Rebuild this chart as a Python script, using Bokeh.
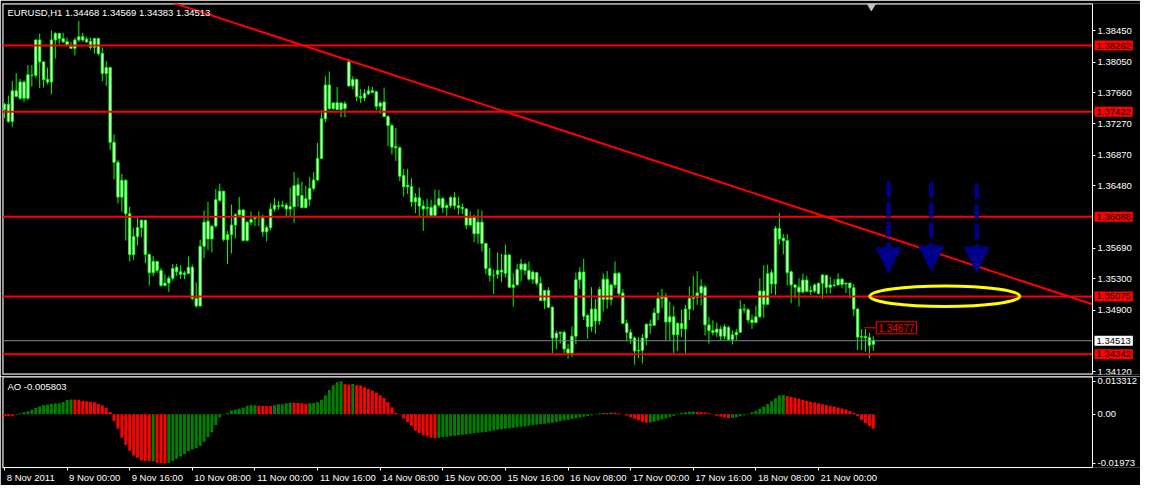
from bokeh.plotting import figure
from bokeh.layouts import column
from bokeh.models import (ColumnDataSource, Label, FixedTicker, Arrow, NormalHead,
                          Range1d, LinearAxis, PrintfTickFormatter)
from bokeh.embed import file_html
from bokeh.resources import INLINE

FONT = "Liberation Sans"
FS = "9.5px"

# ---------------- data (EURUSD H1, 8 Nov 2011 08:00 .. 21 Nov 2011) ----------------
opens = [
    1.37450, 1.37515, 1.37299, 1.37687, 1.37593, 1.37798, 1.37593, 1.37884, 1.37884, 1.38333,
    1.38055, 1.37834, 1.37798, 1.38333, 1.38415, 1.38350, 1.38313, 1.38252, 1.38227, 1.38333,
    1.38374, 1.38342, 1.38313, 1.38239, 1.38350, 1.38162, 1.37908, 1.37982, 1.37033, 1.36779,
    1.36337, 1.36550, 1.36125, 1.35609, 1.35835, 1.35949, 1.36043, 1.35609, 1.35377, 1.35520,
    1.35405, 1.35213, 1.35245, 1.35307, 1.35446, 1.35389, 1.35356, 1.35368, 1.35446, 1.35049,
    1.34955, 1.35712, 1.36031, 1.35806, 1.35969, 1.36297, 1.36411, 1.35798, 1.35859, 1.35982,
    1.36113, 1.36174, 1.35786, 1.36019, 1.36064, 1.36084, 1.36072, 1.35896, 1.35949, 1.36186,
    1.36227, 1.36223, 1.36235, 1.36186, 1.36215, 1.36493, 1.36358, 1.36203, 1.36309, 1.36448,
    1.36554, 1.36828, 1.37331, 1.37761, 1.37462, 1.37536, 1.37450, 1.37462, 1.38055, 1.37749,
    1.37830, 1.37614, 1.37597, 1.37646, 1.37687, 1.37675, 1.37491, 1.37544, 1.37360, 1.37246,
    1.36980, 1.36963, 1.36612, 1.36468, 1.36473, 1.36276, 1.36329, 1.36223, 1.36195, 1.36207,
    1.36104, 1.36235, 1.36318, 1.36203, 1.36228, 1.36330, 1.36228, 1.36207, 1.36187, 1.35982,
    1.36084, 1.35872, 1.36019, 1.35749, 1.35430, 1.35344, 1.35356, 1.35410, 1.35369, 1.35602,
    1.35193, 1.35222, 1.35418, 1.35487, 1.35406, 1.35295, 1.35377, 1.35242, 1.35025, 1.35152,
    1.34939, 1.34547, 1.34608, 1.34620, 1.34408, 1.34354, 1.34571, 1.35287, 1.35385, 1.34833,
    1.34694, 1.34915, 1.34763, 1.35037, 1.35295, 1.35037, 1.35222, 1.35369, 1.35119, 1.34735,
    1.34620, 1.34547, 1.34383, 1.34391, 1.34547, 1.34722, 1.34710, 1.34866, 1.35050, 1.35078,
    1.34751, 1.34817, 1.34592, 1.34731, 1.34661, 1.34915, 1.35050, 1.35062, 1.35119, 1.35193,
    1.34714, 1.34641, 1.34620, 1.34661, 1.34571, 1.34682, 1.34530, 1.34588, 1.34620, 1.34915,
    1.34907, 1.34776, 1.34743, 1.34817, 1.35144, 1.34976, 1.35377, 1.35234, 1.35937, 1.35815,
    1.35786, 1.35389, 1.35222, 1.35193, 1.35132, 1.35283, 1.35140, 1.35144, 1.35242, 1.35242,
    1.35344, 1.35193, 1.35222, 1.35222, 1.35295, 1.35234, 1.35246, 1.35185, 1.34915, 1.34559,
    1.34567, 1.34551, 1.34468,
]
highs = [
    1.37532, 1.37626, 1.37810, 1.37912, 1.37839, 1.37818, 1.38014, 1.38014, 1.38342, 1.38415,
    1.38055, 1.37982, 1.38452, 1.38432, 1.38423, 1.38423, 1.38362, 1.38309, 1.38362, 1.38575,
    1.38423, 1.38374, 1.38362, 1.38362, 1.38362, 1.38239, 1.38063, 1.37994, 1.37135, 1.36808,
    1.36632, 1.36562, 1.36215, 1.35949, 1.36072, 1.36051, 1.36051, 1.35622, 1.35589, 1.35528,
    1.35438, 1.35356, 1.35335, 1.35487, 1.35487, 1.35471, 1.35397, 1.35581, 1.35479, 1.35254,
    1.35798, 1.36166, 1.36276, 1.35969, 1.36440, 1.36509, 1.36419, 1.35908, 1.36244, 1.36133,
    1.36338, 1.36186, 1.36031, 1.36154, 1.36100, 1.36154, 1.36113, 1.35978, 1.36256, 1.36325,
    1.36289, 1.36289, 1.36264, 1.36460, 1.36657, 1.36583, 1.36534, 1.36481, 1.36591, 1.36657,
    1.37025, 1.37442, 1.37871, 1.37933, 1.37544, 1.37736, 1.37544, 1.37556, 1.38096, 1.37871,
    1.37843, 1.37708, 1.37708, 1.37749, 1.37736, 1.37687, 1.37565, 1.37728, 1.37381, 1.37270,
    1.37217, 1.36980, 1.36698, 1.36698, 1.36575, 1.36387, 1.36460, 1.36297, 1.36317, 1.36305,
    1.36432, 1.36428, 1.36338, 1.36256, 1.36350, 1.36399, 1.36338, 1.36256, 1.36195, 1.36154,
    1.36113, 1.36183, 1.36166, 1.35749, 1.35692, 1.35418, 1.35635, 1.35614, 1.35733, 1.35610,
    1.35369, 1.35491, 1.35553, 1.35500, 1.35520, 1.35406, 1.35389, 1.35324, 1.35152, 1.35193,
    1.34947, 1.34641, 1.34628, 1.34641, 1.34477, 1.34694, 1.35377, 1.35446, 1.35553, 1.34853,
    1.35193, 1.35042, 1.35200, 1.35369, 1.35397, 1.35234, 1.35520, 1.35385, 1.35172, 1.34784,
    1.34661, 1.34567, 1.34559, 1.34600, 1.34731, 1.34784, 1.34927, 1.35132, 1.35172, 1.35119,
    1.35009, 1.34956, 1.34743, 1.34907, 1.34968, 1.35201, 1.35336, 1.35397, 1.35295, 1.35222,
    1.34817, 1.34772, 1.34743, 1.34702, 1.34723, 1.34702, 1.34641, 1.34661, 1.35029, 1.34980,
    1.34927, 1.34845, 1.34956, 1.35307, 1.35471, 1.35479, 1.35418, 1.35970, 1.36134, 1.35868,
    1.35868, 1.35406, 1.35226, 1.35307, 1.35365, 1.35336, 1.35213, 1.35242, 1.35254, 1.35357,
    1.35348, 1.35324, 1.35295, 1.35369, 1.35307, 1.35246, 1.35246, 1.35234, 1.34927, 1.34661,
    1.34661, 1.34612, 1.34569,
]
lows = [
    1.37340, 1.37279, 1.37229, 1.37605, 1.37573, 1.37544, 1.37565, 1.37740, 1.37851, 1.37720,
    1.37728, 1.37769, 1.37646, 1.38096, 1.38280, 1.38293, 1.38260, 1.38219, 1.38137, 1.38309,
    1.38309, 1.38293, 1.38211, 1.38158, 1.38137, 1.37810, 1.37749, 1.36931, 1.36562, 1.36256,
    1.36153, 1.35785, 1.35520, 1.35540, 1.35724, 1.35826, 1.35499, 1.35213, 1.35335, 1.35377,
    1.35200, 1.35200, 1.35131, 1.35274, 1.35335, 1.35295, 1.35295, 1.35356, 1.35029, 1.34931,
    1.34947, 1.35560, 1.35663, 1.35634, 1.35949, 1.36276, 1.35773, 1.35487, 1.35622, 1.35814,
    1.36092, 1.35773, 1.35773, 1.35978, 1.35969, 1.35969, 1.35835, 1.35773, 1.35916, 1.36154,
    1.36174, 1.36207, 1.36092, 1.36092, 1.36010, 1.36215, 1.36195, 1.36195, 1.36223, 1.36419,
    1.36542, 1.36820, 1.37286, 1.37442, 1.37442, 1.37442, 1.37352, 1.37352, 1.37736, 1.37708,
    1.37552, 1.37532, 1.37556, 1.37638, 1.37655, 1.37442, 1.37393, 1.37352, 1.36984, 1.36877,
    1.36796, 1.36542, 1.36346, 1.36379, 1.36215, 1.36133, 1.36100, 1.35908, 1.36100, 1.36100,
    1.36100, 1.36207, 1.36134, 1.36101, 1.36195, 1.36183, 1.36113, 1.36121, 1.35929, 1.35970,
    1.35765, 1.35745, 1.35643, 1.35356, 1.35266, 1.35103, 1.35303, 1.35254, 1.35315, 1.35185,
    1.34947, 1.35213, 1.35266, 1.35348, 1.35275, 1.35234, 1.35213, 1.35017, 1.34915, 1.34927,
    1.34354, 1.34408, 1.34477, 1.34354, 1.34285, 1.34305, 1.34469, 1.35172, 1.34776, 1.34538,
    1.34628, 1.34600, 1.34714, 1.34886, 1.34919, 1.34960, 1.35181, 1.35070, 1.34722, 1.34510,
    1.34469, 1.34211, 1.34293, 1.34224, 1.34457, 1.34600, 1.34702, 1.34772, 1.34927, 1.34518,
    1.34518, 1.34354, 1.34383, 1.34559, 1.34354, 1.34776, 1.34898, 1.34968, 1.34960, 1.34579,
    1.34477, 1.34579, 1.34559, 1.34518, 1.34530, 1.34518, 1.34465, 1.34518, 1.34612, 1.34866,
    1.34735, 1.34661, 1.34735, 1.34804, 1.34804, 1.34968, 1.35111, 1.35091, 1.35733, 1.35610,
    1.35213, 1.34988, 1.35050, 1.34947, 1.35111, 1.35132, 1.35091, 1.35119, 1.35103, 1.35042,
    1.35111, 1.35111, 1.35193, 1.35213, 1.35185, 1.35119, 1.35050, 1.34825, 1.34395, 1.34395,
    1.34375, 1.34293, 1.34383,
]
closes = [
    1.37515, 1.37299, 1.37687, 1.37614, 1.37798, 1.37593, 1.37892, 1.37884, 1.38333, 1.38055,
    1.37830, 1.37798, 1.38333, 1.38415, 1.38350, 1.38309, 1.38272, 1.38227, 1.38333, 1.38374,
    1.38333, 1.38309, 1.38239, 1.38350, 1.38162, 1.37908, 1.37982, 1.37033, 1.36779, 1.36337,
    1.36550, 1.36125, 1.35609, 1.35835, 1.35949, 1.36043, 1.35609, 1.35377, 1.35520, 1.35405,
    1.35213, 1.35245, 1.35307, 1.35430, 1.35389, 1.35356, 1.35372, 1.35446, 1.35049, 1.34955,
    1.35712, 1.36019, 1.35806, 1.35969, 1.36305, 1.36411, 1.35798, 1.35859, 1.35982, 1.36113,
    1.36174, 1.35786, 1.36019, 1.36051, 1.36084, 1.36084, 1.35896, 1.35949, 1.36186, 1.36235,
    1.36219, 1.36235, 1.36186, 1.36215, 1.36481, 1.36358, 1.36203, 1.36317, 1.36448, 1.36554,
    1.36828, 1.37331, 1.37761, 1.37462, 1.37532, 1.37450, 1.37532, 1.37524, 1.37749, 1.37830,
    1.37614, 1.37597, 1.37655, 1.37687, 1.37667, 1.37491, 1.37532, 1.37360, 1.37246, 1.36972,
    1.36963, 1.36603, 1.36468, 1.36489, 1.36276, 1.36329, 1.36223, 1.36186, 1.36207, 1.36104,
    1.36235, 1.36317, 1.36203, 1.36228, 1.36330, 1.36228, 1.36203, 1.36191, 1.35982, 1.36072,
    1.35872, 1.36019, 1.35749, 1.35430, 1.35344, 1.35344, 1.35406, 1.35385, 1.35602, 1.35193,
    1.35222, 1.35418, 1.35487, 1.35406, 1.35295, 1.35385, 1.35242, 1.35025, 1.35152, 1.34939,
    1.34547, 1.34608, 1.34620, 1.34408, 1.34354, 1.34571, 1.35287, 1.35385, 1.34825, 1.34694,
    1.34915, 1.34763, 1.35164, 1.35295, 1.35037, 1.35222, 1.35369, 1.35111, 1.34735, 1.34620,
    1.34538, 1.34383, 1.34391, 1.34547, 1.34722, 1.34710, 1.34866, 1.35050, 1.35078, 1.34751,
    1.34817, 1.34592, 1.34735, 1.34669, 1.34915, 1.35050, 1.35062, 1.35119, 1.35205, 1.34714,
    1.34641, 1.34620, 1.34661, 1.34571, 1.34690, 1.34530, 1.34588, 1.34620, 1.34915, 1.34907,
    1.34776, 1.34743, 1.34817, 1.35144, 1.34976, 1.35365, 1.35234, 1.35937, 1.35806, 1.35782,
    1.35377, 1.35222, 1.35193, 1.35132, 1.35283, 1.35140, 1.35152, 1.35222, 1.35111, 1.35348,
    1.35193, 1.35222, 1.35213, 1.35295, 1.35226, 1.35246, 1.35185, 1.34915, 1.34559, 1.34567,
    1.34551, 1.34457, 1.34513,
]
ao_values = [
    -0.00078, -0.00078, -0.00080, -0.00026, 0.00039, 0.00078, 0.00117, 0.00182, 0.00247, 0.00312,
    0.00364, 0.00390, 0.00416, 0.00429, 0.00431, 0.00494, 0.00572, 0.00598, 0.00597, 0.00585,
    0.00546, 0.00520, 0.00507, 0.00481, 0.00416, 0.00364, 0.00260, 0.00091, -0.00273, -0.00585,
    -0.00949, -0.01235, -0.01469, -0.01664, -0.01755, -0.01859, -0.01885, -0.01898, -0.01890, -0.01950,
    -0.01960, -0.01973, -0.01950, -0.01885, -0.01794, -0.01703, -0.01599, -0.01495, -0.01417, -0.01365,
    -0.01274, -0.01105, -0.00923, -0.00728, -0.00429, -0.00130, -0.00013, 0.00052, 0.00156, 0.00182,
    0.00221, 0.00260, 0.00338, 0.00364, 0.00366, 0.00338, 0.00336, 0.00335, 0.00334, 0.00364,
    0.00403, 0.00405, 0.00442, 0.00455, 0.00453, 0.00450, 0.00429, 0.00416, 0.00442, 0.00455,
    0.00481, 0.00585, 0.00767, 0.00975, 0.01170, 0.01287, 0.013312, 0.01209, 0.01200, 0.01222,
    0.01170, 0.01157, 0.01092, 0.01014, 0.00962, 0.00871, 0.00767, 0.00650, 0.00481, 0.00286,
    0.00065, -0.00013, -0.00169, -0.00325, -0.00468, -0.00663, -0.00754, -0.00845, -0.00884, -0.00949,
    -0.00955, -0.00945, -0.0093, -0.0091, -0.0089, -0.0087, -0.0085, -0.0083, -0.0081, -0.0079,
    -0.0077, -0.0075, -0.0073, -0.0071, -0.0068, -0.0065, -0.0062, -0.0060, -0.0058, -0.0056,
    -0.0054, -0.0052, -0.0050, -0.0048, -0.0046, -0.0044, -0.0042, -0.0040, -0.0038, -0.0036,
    -0.0034, -0.0031, -0.0028, -0.0025, -0.0022, -0.0019, -0.0016, -0.0013, -0.0010, -0.0007,
    -0.0004, 0.0002, 0.0004, 0.0006, 0.0005, 0.0007, 0.0006, 0.0004, 0.0001, -0.0005,
    -0.0012, -0.0018, -0.0024, -0.0030, -0.0034, -0.0033, -0.0030, -0.0026, -0.0021, -0.0016,
    -0.0011, -0.0006, 0.0003, 0.0006, 0.0008, 0.0010, 0.0011, 0.0010, 0.0009, 0.0007,
    0.0004, -0.0001, -0.0006, -0.0010, -0.0013, -0.0015, -0.0014, -0.0012, -0.0008, -0.0004,
    0.0002, 0.0008, 0.0014, 0.0022, 0.0031, 0.0041, 0.0052, 0.0064, 0.0076, 0.0078,
    0.0074, 0.0070, 0.0066, 0.0062, 0.0058, 0.0054, 0.0050, 0.0047, 0.0044, 0.0040,
    0.0037, 0.0034, 0.0031, 0.0027, 0.0023, 0.0019, 0.0013, 0.0005, -0.0008, -0.0023,
    -0.0036, -0.0048, -0.005803,
]

symbol_header = "EURUSD,H1  1.34468 1.34569 1.34383 1.34513"
ao_header = "AO -0.005803"
levels = [1.38262, 1.37422, 1.36088, 1.35075, 1.34342]
bid_price = 1.34513
price_ticks = [1.34120, 1.34900, 1.35300, 1.35690,
               1.36480, 1.36870, 1.37270, 1.37660, 1.38050, 1.38450]
ao_ticks = [-0.01973, 0.0, 0.013312]
ao_tick_labels = ["-0.01973", "0.00", "0.013312"]
time_tick_bars = [0, 16, 32, 48, 64, 80, 96, 112, 128, 144, 160, 176, 192, 208]
time_tick_labels = ["8 Nov 2011", "9 Nov 00:00", "9 Nov 16:00", "10 Nov 08:00",
                    "11 Nov 00:00", "11 Nov 16:00", "14 Nov 08:00", "15 Nov 00:00",
                    "15 Nov 16:00", "16 Nov 08:00", "17 Nov 00:00", "17 Nov 16:00",
                    "18 Nov 08:00", "21 Nov 00:00"]
trend_bars = [79, 192]
trend_prices = [1.38219, 1.36378]
arrow_bars = [225.9, 236.8, 248.4]
arrow_tops = [1.36529, 1.36522, 1.36501]
arrow_tips = [1.35376, 1.35397, 1.35385]
ellipse_bar, ellipse_price = 240.25, 1.35078
ellipse_w_bars, ellipse_h_price = 38.3, 0.00262
marker_price = 1.34677
marker_bars = [219.5, 222.75]
shift_bar = 221.5

# ---------------- layout constants ----------------
W = 1140
LEFT = 2
DATA_W = 1090                     # pixels of the chart area left of the price scale
X_LO, X_EDGE = -0.5, 278.0        # bar range of the chart area (X_EDGE = price-scale line)
PPB = DATA_W / (X_EDGE - X_LO)
X_HI = X_LO + (W - LEFT) / PPB    # frame continues under the price-scale column
Y_LO, Y_HI = 1.34084, 1.38796
AO_LO, AO_HI = -0.02145, 0.01521
BLACK = "black"
LIME = "#00ff00"
NAVY = "#00008b"

n = len(closes)
bars = list(range(n))
x_range = Range1d(X_LO, X_HI)

tag_extra = {"padding": 2} if "padding" in Label.properties() else {}


def style_axis(ax):
    ax.axis_line_color = "white"
    ax.major_tick_line_color = "white"
    ax.major_tick_out = 3
    ax.major_tick_in = 0
    ax.minor_tick_line_color = None
    ax.major_label_text_color = "white"
    ax.major_label_text_font = FONT
    ax.major_label_text_font_size = FS
    ax.major_label_standoff = 2


def frame_lines(fig, y_lo, y_hi, top=True, bottom=True):
    ys = ([y_hi] if top else []) + ([y_lo] if bottom else [])
    if ys:
        fig.segment(x0=[X_LO] * len(ys), x1=[X_EDGE] * len(ys), y0=ys, y1=ys,
                    line_color="white", line_width=2)
    fig.segment(x0=[X_LO], x1=[X_LO], y0=[y_lo], y1=[y_hi], line_color="white", line_width=2)


def price_tag(fig, price, fill):
    fig.add_layout(Label(x=X_EDGE, x_offset=2, y=price, text=f"{price:.5f}",
                         text_font=FONT, text_font_size=FS, text_color="black",
                         background_fill_color=fill, text_baseline="middle",
                         text_align="left", level="overlay", **tag_extra))


# ---------------- price panel ----------------
p = figure(width=W, height=376, x_range=x_range, y_range=Range1d(Y_LO, Y_HI),
           output_backend="svg", toolbar_location=None,
           x_axis_location=None, y_axis_location="right",
           min_border_left=LEFT, min_border_right=0, min_border_top=3, min_border_bottom=2,
           background_fill_color=BLACK, border_fill_color=BLACK, outline_line_color=None)
p.grid.visible = False
ya = p.yaxis[0]
ya.fixed_location = X_EDGE
ya.ticker = FixedTicker(ticks=price_ticks, minor_ticks=[])
ya.formatter = PrintfTickFormatter(format="%.5f")
style_axis(ya)
frame_lines(p, Y_LO, Y_HI)

src = ColumnDataSource(dict(
    x=bars, o=opens, h=highs, l=lows, c=closes,
    top=[max(a, b) for a, b in zip(opens, closes)],
    bot=[min(a, b) for a, b in zip(opens, closes)],
))
p.segment(x0="x", y0="l", x1="x", y1="h", source=src, line_color=LIME, line_width=1)
p.vbar(x="x", width=0.6, top="top", bottom="bot", source=src,
       fill_color="white", line_color=LIME, line_width=1)

# horizontal levels, bid line and trend line, ending at the price scale
p.segment(x0=[X_LO] * len(levels), x1=[X_EDGE] * len(levels), y0=levels, y1=levels,
          line_color="red", line_width=2)
p.segment(x0=[X_LO], x1=[X_EDGE], y0=[bid_price], y1=[bid_price],
          line_color="#778899", line_width=1)
grad = (trend_prices[1] - trend_prices[0]) / (trend_bars[1] - trend_bars[0])
t_start = trend_bars[0] + (Y_HI + 0.001 - trend_prices[0]) / grad
p.segment(x0=[t_start], x1=[X_EDGE],
          y0=[trend_prices[0] + grad * (t_start - trend_bars[0])],
          y1=[trend_prices[0] + grad * (X_EDGE - trend_bars[0])],
          line_color="red", line_width=2)

p.ellipse(x=[ellipse_bar], y=[ellipse_price], width=ellipse_w_bars, height=ellipse_h_price,
          fill_color=None, line_color="#ffff00", line_width=3)

asrc = ColumnDataSource(dict(x=arrow_bars, y0=arrow_tops, y1=arrow_tips))
p.add_layout(Arrow(source=asrc, x_start="x", y_start="y0", x_end="x", y_end="y1",
                   line_color=NAVY, line_width=4.5, line_dash="15 5",
                   end=NormalHead(size=25, fill_color=NAVY, line_color=NAVY, line_width=1)))

# chart-shift marker at the top edge
p.scatter(x=[shift_bar], y=[Y_HI - 0.00035], marker="inverted_triangle", size=8,
          fill_color="#c0c0c0", line_color="#c0c0c0")

p.segment(x0=[marker_bars[0]], y0=[marker_price], x1=[marker_bars[1]], y1=[marker_price],
          line_color="red", line_width=1)
p.add_layout(Label(x=marker_bars[1], y=marker_price, text=f"{marker_price:.5f}",
                   text_font=FONT, text_font_size="10px", text_color="red",
                   text_baseline="middle", text_align="left",
                   border_line_color="red", background_fill_color=BLACK, **tag_extra))

p.add_layout(Label(x=5, y=368, x_units="screen", y_units="screen", text=symbol_header,
                   text_font=FONT, text_font_size="9.5px", text_color="white",
                   text_baseline="top", text_align="left"))

# price-level tags on the price scale
for lv in levels:
    price_tag(p, lv, "red")
price_tag(p, bid_price, "white")

# ---------------- AO panel ----------------
ao_colors = ["#ff0000"]
for i in range(1, n):
    ao_colors.append("#008000" if ao_values[i] > ao_values[i - 1] else "#ff0000")

p2 = figure(width=W, height=109, x_range=x_range, y_range=Range1d(AO_LO, AO_HI),
            output_backend="svg", toolbar_location=None,
            x_axis_location=None, y_axis_location="right",
            min_border_left=LEFT, min_border_right=0, min_border_top=0, min_border_bottom=0,
            background_fill_color=BLACK, border_fill_color=BLACK, outline_line_color=None)
p2.grid.visible = False
ya2 = p2.yaxis[0]
ya2.fixed_location = X_EDGE
ya2.ticker = FixedTicker(ticks=ao_ticks, minor_ticks=[])
ya2.major_label_overrides = {t: s for t, s in zip(ao_ticks, ao_tick_labels)}
style_axis(ya2)
frame_lines(p2, AO_LO, AO_HI, bottom=False)

aosrc = ColumnDataSource(dict(
    x=bars, top=[max(v, 0) for v in ao_values], bot=[min(v, 0) for v in ao_values], col=ao_colors))
p2.vbar(x="x", width=0.75, top="top", bottom="bot", source=aosrc,
        fill_color="col", line_color=None)

p2.add_layout(Label(x=5, y=87, x_units="screen", y_units="screen", text=ao_header,
                    text_font=FONT, text_font_size="9.5px", text_color="white",
                    text_baseline="top", text_align="left"))

# time axis: tick marks at bar positions, labels placed to the right of the ticks
ax_ticks = LinearAxis(ticker=FixedTicker(ticks=time_tick_bars, minor_ticks=[]),
                      bounds=(X_LO, X_EDGE))
style_axis(ax_ticks)
ax_ticks.major_label_text_font_size = "1px"
ax_ticks.major_label_text_color = None
ax_ticks.major_label_standoff = 0

char_em = {d: 0.556 for d in "0123456789"}
char_em.update({" ": 0.278, ":": 0.278, "N": 0.722, "o": 0.556, "v": 0.5})
fs_px = 9.5
centers = []
for b, s in zip(time_tick_bars, time_tick_labels):
    wpx = sum(char_em.get(ch, 0.556) for ch in s) * fs_px
    centers.append(b + (wpx / 2 + 2) / PPB)
ax_labels = LinearAxis(ticker=FixedTicker(ticks=centers, minor_ticks=[]),
                       major_label_overrides={c: s for c, s in zip(centers, time_tick_labels)})
style_axis(ax_labels)
ax_labels.axis_line_color = None
ax_labels.major_tick_line_color = None
ax_labels.major_tick_out = 0
ax_labels.major_label_standoff = 1

p2.add_layout(ax_ticks, "below")
p2.add_layout(ax_labels, "below")

layout = column(p, p2, spacing=0)
open("out.html", "w").write(file_html(layout, INLINE))
